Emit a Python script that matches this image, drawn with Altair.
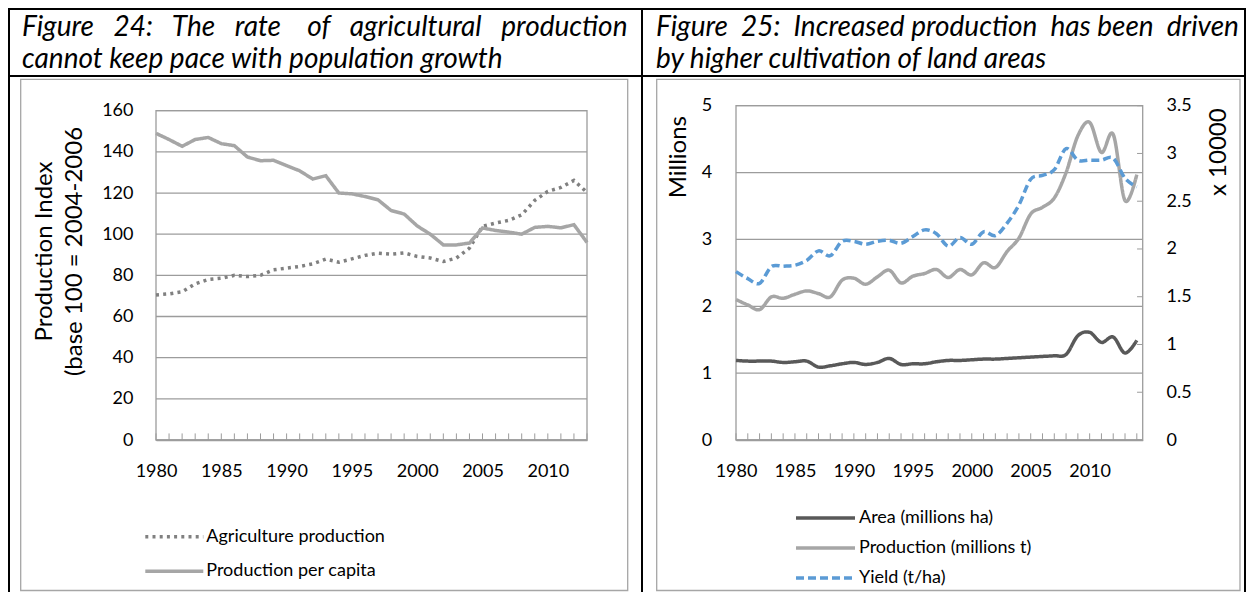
import altair as alt
import pandas as pd

# ---------------- data ----------------
years_24 = list(range(1980, 2014))
agriculture_production = [70.5, 71.0, 72.0, 75.9, 78.0, 78.6, 80.0, 79.4, 80.0, 82.7,
                          83.5, 84.3, 85.6, 87.9, 86.4, 88.0, 89.7, 90.8, 90.3, 90.9,
                          89.2, 88.4, 86.7, 88.4, 93.2, 103.8, 105.4, 106.7, 109.4, 116.4,
                          120.8, 122.7, 126.1, 120.3]
production_per_capita = [149.0, 146.0, 142.7, 146.0, 147.0, 144.0, 143.0, 137.5, 135.7, 135.9,
                         133.3, 130.8, 126.8, 128.4, 120.0, 119.6, 118.3, 116.7, 111.5, 109.8,
                         104.0, 100.0, 94.8, 94.8, 95.7, 103.0, 101.8, 101.0, 100.0, 103.3,
                         103.8, 103.1, 104.6, 96.0]
names_24 = ["Agriculture production", "Production per capita"]

years_25 = list(range(1980, 2015))
area_mha = [1.19, 1.18, 1.18, 1.18, 1.16, 1.17, 1.18, 1.09, 1.11, 1.14,
            1.16, 1.13, 1.16, 1.22, 1.13, 1.14, 1.14, 1.17, 1.19, 1.19,
            1.20, 1.21, 1.21, 1.22, 1.23, 1.24, 1.25, 1.26, 1.28, 1.56,
            1.61, 1.46, 1.54, 1.30, 1.49]
production_mt = [2.10, 2.02, 1.95, 2.14, 2.12, 2.18, 2.23, 2.19, 2.14, 2.39,
                 2.42, 2.33, 2.44, 2.54, 2.35, 2.45, 2.49, 2.55, 2.43, 2.55,
                 2.47, 2.65, 2.58, 2.82, 3.02, 3.38, 3.48, 3.62, 4.00, 4.55,
                 4.75, 4.30, 4.57, 3.58, 3.97]
yield_hg_ha = [17630, 16900, 16400, 18150, 18200, 18300, 18800, 19800, 19300, 20800,
               20800, 20500, 20800, 20900, 20600, 21300, 22000, 21600, 20300, 21200,
               20500, 21800, 21400, 22700, 24600, 27300, 27700, 28300, 30500, 29300,
               29300, 29300, 29500, 27400, 26500]
names_25a = ["Area (millions ha)", "Production (millions t)"]
names_25b = ["Yield (t/ha)"]

ticks_24 = [0, 20, 40, 60, 80, 100, 120, 140, 160]
ticks_25_left = [0, 1, 2, 3, 4, 5]
ticks_25_right = [0, 5000, 10000, 15000, 20000, 25000, 30000, 35000]
year_labels = [1980, 1985, 1990, 1995, 2000, 2005, 2010]

title_24 = ["Figure 24: The rate of agricultural production",
            "cannot keep pace with population growth"]
title_25 = ["Figure 25: Increased production has been driven",
            "by higher cultivation of land areas"]
ytitle_24 = ["Production Index", "(base 100 = 2004-2006"]

# ---------------- styling ----------------
W, H = 1238, 584
FONT = "Lato"
GRID = "#9c9c9c"
LIGHT = "#a6a6a6"
NB = "\u00a0"


def justify(line, gaps):
    words = line.split(" ")
    out = words[0]
    for w, n in zip(words[1:], gaps):
        out += NB * n + w
    return out


def hrule(x, x2, y, color, width):
    return alt.Chart().mark_rule(color=color, strokeWidth=width).encode(
        x=alt.value(x), x2=alt.value(x2), y=alt.value(y), y2=alt.value(y))


def vrule(x, y, y2, color, width):
    return alt.Chart().mark_rule(color=color, strokeWidth=width).encode(
        x=alt.value(x), x2=alt.value(x), y=alt.value(y), y2=alt.value(y2))


def box(x, x2, y, y2):
    return alt.Chart().mark_rect(fillOpacity=0, stroke=LIGHT, strokeWidth=1.3).encode(
        x=alt.value(x), x2=alt.value(x2), y=alt.value(y), y2=alt.value(y2))


def text(s, x, y):
    return alt.Chart().mark_text(text=s, align="left", baseline="alphabetic", font=FONT,
                                 fontStyle="italic", fontSize=28, color="black").encode(
        x=alt.value(x), y=alt.value(y))


decor = [
    hrule(0, W, 1, "black", 2),
    hrule(0, W, 68, "black", 2),
    vrule(1, 0, H, "black", 2),
    vrule(634, 0, H, "black", 2),
    vrule(1237, 0, H, "black", 2),
    box(12.7, 619.7, 71.3, 582.5),
    box(648.7, 1232, 71.3, 582.5),
    text(justify(title_24[0], [3, 3, 3, 4, 3, 3]), 14, 28),
    text(title_24[1], 14, 60),
    text(justify(title_25[0], [2, 2, 1, 2, 1, 2]), 648, 28),
    text(title_25[1], 648, 60),
]

lab = dict(labelFont=FONT, labelFontSize=18, labelColor="black",
           labelFlush=False, labelOverlap=False)
ttl = dict(titleFont=FONT, titleFontSize=24, titleFontWeight="normal", titleColor="black",
           titleAngle=270, titleAlign="center", titleBaseline="middle", titleLineHeight=30)


def legend(x, y, clip, pad, size, offset):
    return alt.Legend(title=None, orient="none", legendX=x, legendY=y, direction="vertical",
                      symbolType="stroke", symbolSize=size, symbolStrokeWidth=3.5,
                      clipHeight=clip, rowPadding=pad, labelOffset=offset, labelFont=FONT,
                      labelFontSize=18, labelColor="black", labelLimit=400, padding=0)


# ---------------- Figure 24 ----------------
xL = alt.Scale(domain=[1980, 2013], range=[148, 579], nice=False, zero=False)
yL = alt.Scale(domain=[0, 160], range=[432, 102.7], nice=False)

frameL = alt.Chart().mark_rect(fillOpacity=0, stroke=GRID, strokeWidth=1.3).encode(
    x=alt.XDatum(1980, type="quantitative", scale=xL, axis=None),
    x2=alt.X2Datum(2013),
    y=alt.YDatum(0, type="quantitative", scale=yL, axis=None),
    y2=alt.Y2Datum(160))

gridL = alt.Chart(pd.DataFrame({"v": ticks_24})).mark_rule(color=GRID, strokeWidth=1.3).encode(
    y=alt.Y("v:Q", scale=yL, axis=alt.Axis(
        orient="left", offset=-148, values=ticks_24, domain=False, ticks=False, tickSize=0,
        grid=False, labelPadding=23, title=ytitle_24, titleX=-112, titleY=243, **lab, **ttl)),
    x=alt.XDatum(1980, type="quantitative", scale=xL, axis=None),
    x2=alt.X2Datum(2013))

tickL = alt.Chart(pd.DataFrame({"year": years_24})).mark_rule(color=GRID, strokeWidth=1).encode(
    x=alt.X("year:Q", scale=xL, axis=alt.Axis(
        orient="bottom", offset=-152, values=year_labels, format="d", domain=True,
        domainColor=GRID, domainWidth=1.3, ticks=False, tickSize=0, grid=False,
        labelPadding=31.7, labelBaseline="middle", title=None, **lab)),
    y=alt.YDatum(0, type="quantitative", scale=yL, axis=None),
    y2=alt.Y2Datum(3.2))

df24 = pd.DataFrame({
    "year": years_24 + years_24,
    "value": agriculture_production + production_per_capita,
    "series": [names_24[0]] * len(years_24) + [names_24[1]] * len(years_24),
})
leg24 = legend(135.3, 513.7, 30, 4.5, 3364, 1)
lines24 = alt.Chart(df24).mark_line(strokeWidth=3.5).encode(
    x=alt.X("year:Q", scale=xL, axis=None),
    y=alt.Y("value:Q", scale=yL, axis=None),
    color=alt.Color("series:N", scale=alt.Scale(domain=names_24, range=["#808080", LIGHT]),
                    legend=leg24),
    strokeDash=alt.StrokeDash("series:N", scale=alt.Scale(domain=names_24, range=[[3, 4.2], [1, 0]]),
                              legend=leg24))

# ---------------- Figure 25 ----------------
xR = alt.Scale(domain=[1980, 2014.5], range=[728, 1134.7], nice=False, zero=False)
yRL = alt.Scale(domain=[0, 5], range=[432, 97.7], nice=False)
yRR = alt.Scale(domain=[0, 35000], range=[432, 97.7], nice=False)

frameR = alt.Chart().mark_rect(fillOpacity=0, stroke=GRID, strokeWidth=1.3).encode(
    x=alt.XDatum(1980, type="quantitative", scale=xR, axis=None),
    x2=alt.X2Datum(2014.5),
    y=alt.YDatum(0, type="quantitative", scale=yRL, axis=None),
    y2=alt.Y2Datum(5))

gridR = alt.Chart(pd.DataFrame({"v": ticks_25_left})).mark_rule(color=GRID, strokeWidth=1.3).encode(
    y=alt.Y("v:Q", scale=yRL, axis=alt.Axis(
        orient="left", offset=-728, values=ticks_25_left, domain=False, ticks=False, tickSize=0,
        grid=False, labelPadding=24.3, title="Millions", titleX=-57.7, titleY=148.7, **lab, **ttl)),
    x=alt.XDatum(1980, type="quantitative", scale=xR, axis=None),
    x2=alt.X2Datum(2014.5))

tickR = alt.Chart(pd.DataFrame({"year": years_25})).mark_rule(color=GRID, strokeWidth=1).encode(
    x=alt.X("year:Q", scale=xR, axis=alt.Axis(
        orient="bottom", offset=-152, values=year_labels, format="d", domain=True,
        domainColor=GRID, domainWidth=1.3, ticks=False, tickSize=0, grid=False,
        labelPadding=31.7, labelBaseline="middle", title=None, **lab)),
    y=alt.YDatum(0, type="quantitative", scale=yRL, axis=None),
    y2=alt.Y2Datum(0.1))

df25a = pd.DataFrame({
    "year": years_25 + years_25,
    "value": area_mha + production_mt,
    "series": [names_25a[0]] * len(years_25) + [names_25a[1]] * len(years_25),
})
leg25a = legend(786, 496.5, 27, 3, 3481, 2)
lines25a = alt.Chart(df25a).mark_line(strokeWidth=3.5, interpolate="cardinal").encode(
    x=alt.X("year:Q", scale=xR, axis=None),
    y=alt.Y("value:Q", scale=yRL, axis=None),
    color=alt.Color("series:N", scale=alt.Scale(domain=names_25a, range=["#595959", LIGHT]),
                    legend=leg25a),
    strokeDash=alt.StrokeDash("series:N", scale=alt.Scale(domain=names_25a, range=[[1, 0], [1, 0]]),
                              legend=leg25a))

df25b = pd.DataFrame({"year": years_25, "value": yield_hg_ha,
                      "series": names_25b * len(years_25)})
leg25b = legend(786, 556.5, 27, 3, 3481, 2)
line25b = alt.Chart(df25b).mark_line(strokeWidth=3.5, interpolate="cardinal").encode(
    x=alt.X("year:Q", scale=xR, axis=None),
    y=alt.Y("value:Q", scale=yRR, axis=alt.Axis(
        orient="right", offset=-(W - 1134.7), values=ticks_25_right,
        labelExpr="datum.value / 10000", domain=False, ticks=False, tickSize=0, grid=False,
        labelPadding=23.3, title="x 10000", titleX=75.6, titleY=143.7, **lab, **ttl)),
    color=alt.Color("series:N", scale=alt.Scale(domain=names_25b, range=["#5b9bd5"]),
                    legend=leg25b),
    strokeDash=alt.StrokeDash("series:N", scale=alt.Scale(domain=names_25b, range=[[8, 4]]),
                              legend=leg25b))

rticks = alt.Chart(pd.DataFrame({"v": ticks_25_right})).mark_rule(color=GRID, strokeWidth=1).encode(
    y=alt.Y("v:Q", scale=yRR, axis=None),
    x=alt.XDatum(2014.5, type="quantitative", scale=xR, axis=None),
    x2=alt.X2Datum(2014.02))

layers = decor + [frameL, gridL, tickL, lines24, frameR, gridR, tickR, lines25a, line25b, rticks]

chart = alt.layer(*layers).resolve_scale(
    x="independent", y="independent", color="independent", strokeDash="independent"
).properties(
    width=W, height=H, padding=0, autosize=alt.AutoSizeParams(type="none")
).configure_view(strokeWidth=0)

chart.save("out.html", embed_options={"renderer": "svg", "actions": False})
